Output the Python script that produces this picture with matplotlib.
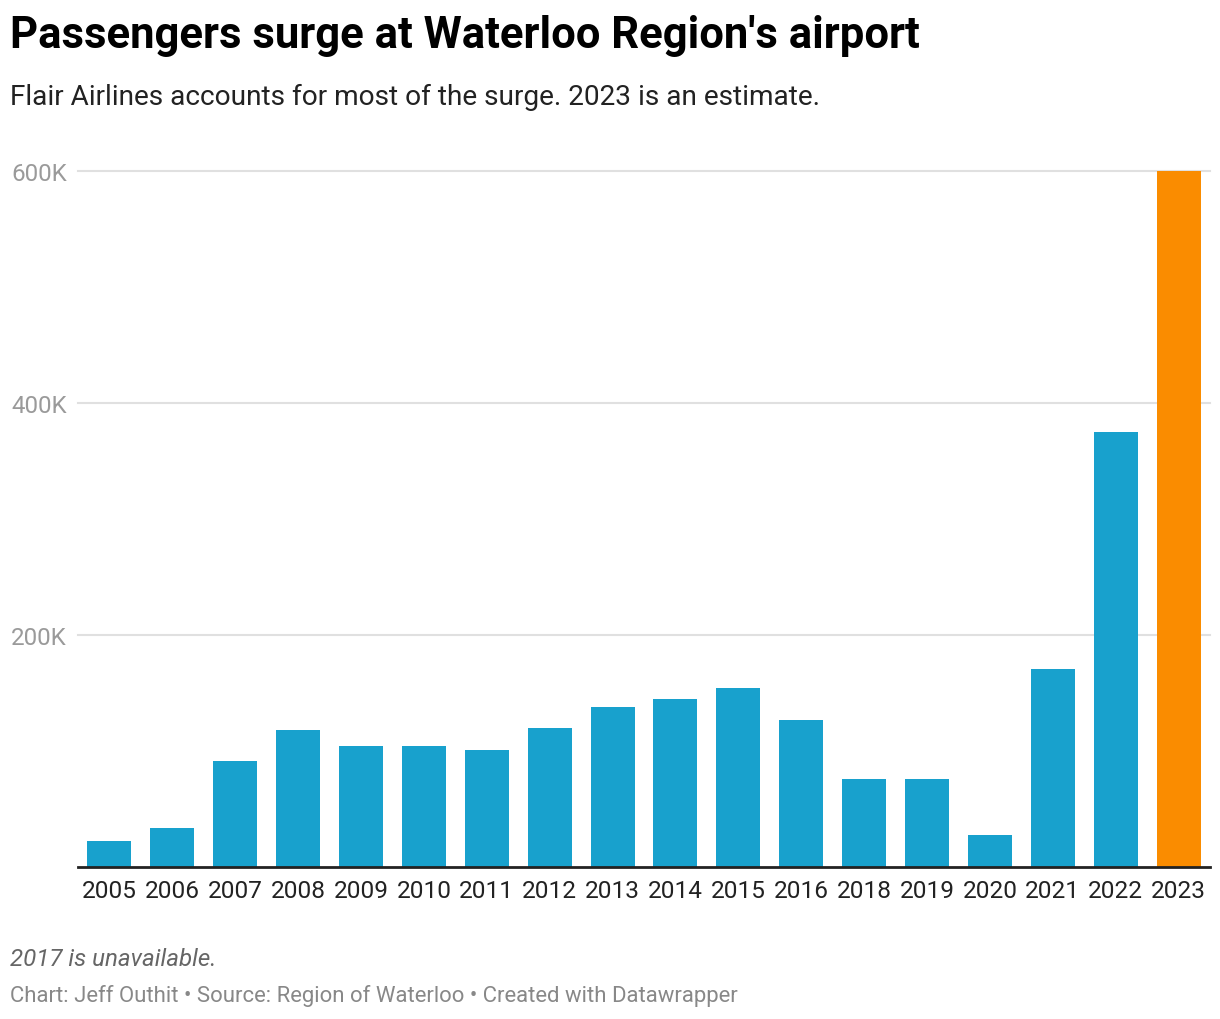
import matplotlib.pyplot as plt
import numpy as np

plt.rcParams['font.family'] = ['Roboto', 'DejaVu Sans']

# passengers per year (2017 is missing in the source)
years = ['2005', '2006', '2007', '2008', '2009', '2010', '2011', '2012', '2013',
         '2014', '2015', '2016', '2018', '2019', '2020', '2021', '2022', '2023']
passengers = [22000, 34000, 91000, 118000, 104500, 104500, 100500, 120000, 138000,
              145000, 154000, 127000, 76000, 76000, 28000, 171000, 375000, 600000]
estimate_year = '2023'

yticks = [200000, 400000, 600000]
ytick_labels = ['200K', '400K', '600K']

blue = '#18a1cd'
orange = '#fa8c00'

W, H = 1220, 1020
fig = plt.figure(figsize=(W / 100, H / 100), dpi=100)
ax = fig.add_axes([78 / W, 1 - 868 / H, (1210 - 78) / W, (868 - 172) / H])

x = np.arange(len(years))
colors = [orange if y == estimate_year else blue for y in years]
ax.bar(x, passengers, width=0.7, color=colors, zorder=2)

ax.set_xlim(-0.5, len(years) - 0.5)
ax.set_ylim(0, 600000)

for v in yticks:
    ax.axhline(v, color='#e0e0e0', linewidth=1.5, zorder=1, clip_on=False)
ax.axhline(0, color='#222222', linewidth=2.0, zorder=3, clip_on=False)

ax.set_yticks(yticks)
ax.set_yticklabels(ytick_labels)
ax.tick_params(axis='y', length=0, pad=8, labelsize=17.4, labelcolor='#9a9a9a')
ax.set_xticks(x)
ax.set_xticklabels(years)
ax.tick_params(axis='x', length=0, pad=9, labelsize=17.6, labelcolor='#222222')

for s in ax.spines.values():
    s.set_visible(False)

fig.text(10 / W, 1 - 36 / H, "Passengers surge at Waterloo Region's airport",
         fontsize=31.4, fontweight='bold', color='#000000', va='center', ha='left')
fig.text(10 / W, 1 - 97 / H, 'Flair Airlines accounts for most of the surge. 2023 is an estimate.',
         fontsize=20.2, color='#222222', va='center', ha='left')
fig.text(10 / W, 1 - 960 / H, '2017 is unavailable.', fontsize=17.4, style='italic',
         color='#666666', va='center', ha='left')
fig.text(10 / W, 1 - 996 / H,
         'Chart: Jeff Outhit \u2022 Source: Region of Waterloo \u2022 Created with Datawrapper',
         fontsize=15.9, color='#888888', va='center', ha='left')

fig.savefig('out.png', dpi=100)
